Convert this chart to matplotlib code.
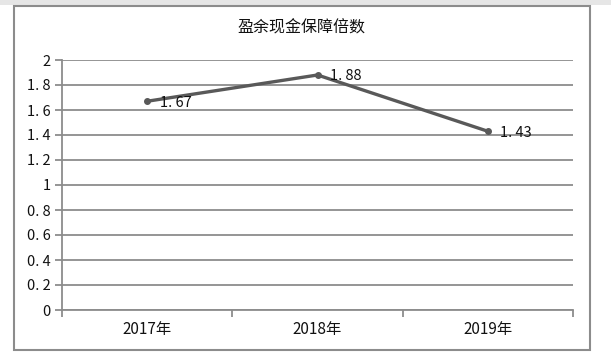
import matplotlib
matplotlib.use("Agg")
import matplotlib.pyplot as plt
from matplotlib.patches import Rectangle
from matplotlib.ticker import FuncFormatter

plt.rcParams['font.family'] = ['Noto Sans CJK SC', 'DejaVu Sans']

# data
years = ["2017年", "2018年", "2019年"]
values = [1.67, 1.88, 1.43]
title = "盈余现金保障倍数"

fig = plt.figure(figsize=(6.11, 3.56), dpi=100)
fig.patch.set_facecolor("white")

# light gray strip at the top and the chart border
fig.patches.append(Rectangle((0, 1 - 5 / 356), 1, 5 / 356, transform=fig.transFigure,
                             facecolor="#e6e6e6", edgecolor="none", zorder=0))
fig.patches.append(Rectangle((13.5 / 611, 1 - 350 / 356), (590 - 13.5) / 611, (350 - 6) / 356,
                             transform=fig.transFigure, facecolor="none",
                             edgecolor="#8c8c8c", linewidth=1.5, zorder=1))

ax = fig.add_axes([62 / 611, 1 - 310 / 356, (573 - 62) / 611, (310 - 60) / 356])
x = list(range(len(years)))
ax.plot(x, values, color="#595959", linewidth=2.4, marker="o", markersize=4,
        solid_capstyle="round", zorder=3)

for xi, v in zip(x, values):
    ax.annotate(f"{v:.2f}".replace(".", ". "), (xi, v), textcoords="offset points",
                xytext=(9, -1), ha="left", va="center", fontsize=10.5, color="#111111")

ax.set_xlim(-0.5, len(years) - 0.5)
ax.set_ylim(0, 2)
ax.set_yticks([i * 0.2 for i in range(11)])
ax.yaxis.set_major_formatter(FuncFormatter(
    lambda v, p: "0" if abs(v) < 1e-9 else ("1" if abs(v - 1) < 1e-9 else ("2" if abs(v - 2) < 1e-9 else f"{v:.1f}".replace(".", ". ")))))
ax.grid(axis="y", color="#8c8c8c", linewidth=1.3)
ax.set_axisbelow(True)

ax.set_xticks(x)
ax.set_xticklabels(years, fontsize=11, color="#111111")
ax.set_xticks([-0.5, 0.5, 1.5, 2.5], minor=True)
ax.tick_params(axis="x", which="major", length=0, pad=8)
ax.tick_params(axis="x", which="minor", length=5, width=1.3, color="#8c8c8c")
ax.tick_params(axis="y", length=5, width=1.3, color="#8c8c8c", labelsize=10.5,
               labelcolor="#111111", pad=3)

for side in ["top", "right"]:
    ax.spines[side].set_visible(False)
for side in ["left", "bottom"]:
    ax.spines[side].set_color("#8c8c8c")
    ax.spines[side].set_linewidth(1.3)

fig.text(301 / 611, 1 - 28 / 356, title, ha="center", va="center", fontsize=11.5, color="#111111")

fig.savefig("out.png", dpi=100)
